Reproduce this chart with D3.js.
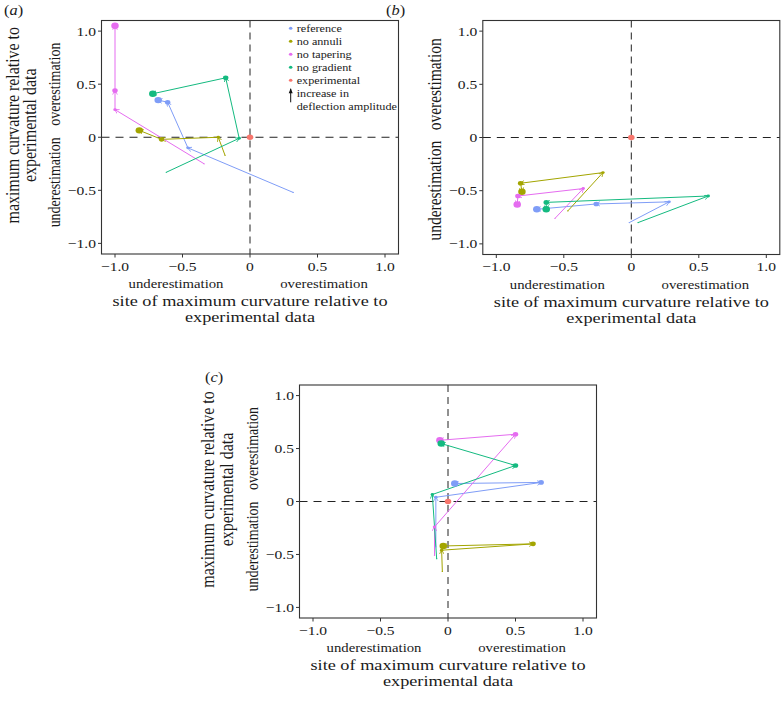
<!DOCTYPE html>
<html><head><meta charset="utf-8">
<script src="https://cdn.jsdelivr.net/npm/d3@7"></script>
<style>
body{margin:0;background:#fff}
text{font-family:"Liberation Serif","Times New Roman",serif;fill:#1a1a1a}
</style>
</head><body><svg id="chart" width="781" height="701"></svg>
<script>
// ---------------- data ----------------
const seriesNames = ["reference", "no annuli", "no tapering", "no gradient"];
const legendLabels = ["reference", "no annuli", "no tapering", "no gradient", "experimental"];
const tickValues = [-1.0, -0.5, 0, 0.5, 1.0];
const tickLabels = ["\u22121.0", "\u22120.5", "0", "0.5", "1.0"];
const amplitudeSteps = [1, 2, 3, 4];
const experimental = [0, 0];

// panel (a): [site, curvature] per increasing deflection amplitude
const aReference  = [[0.32, -0.52], [-0.46, -0.10], [-0.61, 0.33], [-0.68, 0.35]];
const aNoAnnuli   = [[-0.185, -0.17], [-0.235, 0.0], [-0.655, -0.02], [-0.82, 0.065]];
const aNoTapering = [[-0.34, -0.25], [-1.0, 0.26], [-1.0, 0.44], [-1.0, 1.05]];
const aNoGradient = [[-0.62, -0.33], [-0.08, -0.01], [-0.18, 0.56], [-0.72, 0.41]];
// panel (b)
const bReference  = [[-0.015, -0.80], [0.28, -0.605], [-0.26, -0.625], [-0.70, -0.675]];
const bNoAnnuli   = [[-0.47, -0.69], [-0.21, -0.33], [-0.82, -0.43], [-0.81, -0.51]];
const bNoTapering = [[-0.565, -0.76], [-0.356, -0.48], [-0.84, -0.55], [-0.845, -0.63]];
const bNoGradient = [[0.05, -0.80], [0.57, -0.55], [-0.63, -0.61], [-0.63, -0.675]];
// panel (c)
const cReference  = [[-0.09, -0.43], [-0.09, 0.04], [0.69, 0.18], [0.05, 0.17]];
const cNoAnnuli   = [[-0.042, -0.66], [-0.047, -0.46], [0.63, -0.40], [-0.035, -0.42]];
const cNoTapering = [[-0.10, -0.51], [-0.10, -0.24], [0.50, 0.635], [-0.06, 0.578]];
const cNoGradient = [[-0.084, -0.54], [-0.116, 0.066], [0.50, 0.34], [-0.05, 0.547]];

const colors = ["#7F9DF7", "#A3A500", "#E56CF0", "#14BA80", "#F8766D"];

// ---------------- layout ----------------
const SX = 1.17; // horizontal stretch of the original figure
const panels = [
  {label: "(a)", lx: 4, ly: 15, left: 101.5, top: 20.5, w: 297, h: 233.5, data: [aReference, aNoAnnuli, aNoTapering, aNoGradient],
   yTitle: true, t1: 83, t2: 65.5, ySubSize: 14, legend: true},
  {label: "(b)", lx: 386, ly: 15, left: 482.8, top: 20.5, w: 297, h: 234, data: [bReference, bNoAnnuli, bNoTapering, bNoGradient],
   yTitle: false, ySubSize: 15.5, legend: false},
  {label: "(c)", lx: 205, ly: 382, left: 299.5, top: 385, w: 297, h: 233, data: [cReference, cNoAnnuli, cNoTapering, cNoGradient],
   yTitle: true, t1: 86, t2: 66.5, ySubSize: 14, legend: false}
];

const svg = d3.select("#chart");
const defs = svg.append("defs");
colors.forEach((c, i) => {
  defs.append("marker").attr("id", "arr" + i)
    .attr("viewBox", "0 -6 10 12").attr("refX", 9).attr("refY", 0)
    .attr("markerWidth", 4.5).attr("markerHeight", 5.4)
    .attr("markerUnits", "userSpaceOnUse").attr("orient", "auto")
    .append("path").attr("d", "M0,-5.2L10,0L0,5.2")
    .attr("fill", "none").attr("stroke", c).attr("stroke-width", 1.8);
});
defs.append("marker").attr("id", "arrBlack")
  .attr("viewBox", "0 -5 10 10").attr("refX", 9).attr("refY", 0)
  .attr("markerWidth", 6).attr("markerHeight", 5)
  .attr("markerUnits", "userSpaceOnUse").attr("orient", "auto")
  .append("path").attr("d", "M0,-4L10,0L0,4Z").attr("fill", "#111");

const rScale = d3.scaleLinear().domain([1, 4]).range([0.6, 3.2]);

function hText(g, x, y, str, size, anchor) {
  return g.append("text")
    .attr("transform", `translate(${x},${y}) scale(${SX},1)`)
    .attr("text-anchor", anchor || "middle")
    .style("font-size", size + "px").text(str);
}
function vText(g, x, y, str, size) {
  return g.append("text")
    .attr("transform", `translate(${x},${y}) scale(${SX},1) rotate(-90)`)
    .attr("text-anchor", "middle")
    .style("font-size", size + "px").text(str);
}

panels.forEach(p => {
  const g = svg.append("g");
  const x = d3.scaleLinear().domain([-1.1, 1.1]).range([p.left, p.left + p.w]);
  const y = d3.scaleLinear().domain([-1.1, 1.1]).range([p.top + p.h, p.top]);

  // dashed reference lines
  g.append("line").attr("x1", x(0)).attr("x2", x(0)).attr("y1", p.top).attr("y2", p.top + p.h)
    .attr("stroke", "#222").attr("stroke-width", 1).attr("stroke-dasharray", "7,5");
  g.append("line").attr("x1", p.left).attr("x2", p.left + p.w).attr("y1", y(0)).attr("y2", y(0))
    .attr("stroke", "#222").attr("stroke-width", 1).attr("stroke-dasharray", "8,6");

  // segments with arrows
  p.data.forEach((pts, si) => {
    const segs = d3.pairs(pts);
    g.append("g").selectAll("line").data(segs).join("line")
      .attr("x1", d => x(d[0][0])).attr("y1", d => y(d[0][1]))
      .attr("x2", d => x(d[1][0])).attr("y2", d => y(d[1][1]))
      .attr("stroke", colors[si]).attr("stroke-width", 1)
      .attr("marker-end", `url(#arr${si})`);
  });
  // points sized by deflection amplitude
  p.data.forEach((pts, si) => {
    g.append("g").selectAll("ellipse").data(pts).join("ellipse")
      .attr("cx", d => x(d[0])).attr("cy", d => y(d[1]))
      .attr("rx", (d, i) => rScale(amplitudeSteps[i]) * SX)
      .attr("ry", (d, i) => rScale(amplitudeSteps[i]))
      .attr("fill", colors[si]);
  });
  // experimental point
  g.append("ellipse").attr("cx", x(experimental[0])).attr("cy", y(experimental[1]))
    .attr("rx", 2.8 * SX).attr("ry", 2.8).attr("fill", colors[4]);

  // border
  g.append("rect").attr("x", p.left).attr("y", p.top).attr("width", p.w).attr("height", p.h)
    .attr("fill", "none").attr("stroke", "#333").attr("stroke-width", 1.1);

  // ticks
  const bottom = p.top + p.h;
  tickValues.forEach((t, i) => {
    g.append("line").attr("x1", x(t)).attr("x2", x(t)).attr("y1", bottom).attr("y2", bottom + 3.5)
      .attr("stroke", "#333").attr("stroke-width", 1);
    hText(g, x(t), bottom + 16.7, tickLabels[i], 13.3);
    g.append("line").attr("x1", p.left - 3.5).attr("x2", p.left).attr("y1", y(t)).attr("y2", y(t))
      .attr("stroke", "#333").attr("stroke-width", 1);
    hText(g, p.left - 5.5, y(t) + 4.6, tickLabels[i], 13.3, "end");
  });

  // x sub labels and title
  hText(g, x(0) - 74, bottom + 34, "underestimation", 12.6);
  hText(g, x(0) + 74, bottom + 34, "overestimation", 12.6);
  const cx = p.left + p.w / 2;
  hText(g, cx, bottom + 52, "site of maximum curvature relative to", 15.6);
  hText(g, cx, bottom + 68, "experimental data", 15.6);

  // y sub labels and title
  vText(g, p.left - 41.5, y(0.5), "overestimation", p.ySubSize);
  vText(g, p.left - 41.5, y(-0.5) - (p.yTitle ? 8 : 0), "underestimation", p.ySubSize);
  if (p.yTitle) {
    const cy = y(0) - 12;
    vText(g, p.left - p.t1, cy, "maximum curvature relative to", 15.9);
    vText(g, p.left - p.t2, cy, "experimental data", 15.9);
  }

  // panel label
  const lab = g.append("text").attr("transform", `translate(${p.lx},${p.ly}) scale(${SX},1)`)
    .style("font-size", "14px");
  lab.append("tspan").text("(");
  lab.append("tspan").style("font-style", "italic").text(p.label[1]);
  lab.append("tspan").text(")");

  // legend
  if (p.legend) {
    const lg = g.append("g");
    const lx = 290.7, ly0 = 28.3, step = 13;
    legendLabels.forEach((name, i) => {
      lg.append("ellipse").attr("cx", lx).attr("cy", ly0 + i * step).attr("rx", 1.5 * SX).attr("ry", 1.5)
        .attr("fill", colors[i]);
      hText(lg, lx + 6, ly0 + i * step + 3.6, name, 10.4, "start");
    });
    lg.append("line").attr("x1", lx).attr("x2", lx).attr("y1", ly0 + 5 * step + 9).attr("y2", ly0 + 5 * step - 4.5)
      .attr("stroke", "#111").attr("stroke-width", 1).attr("marker-end", "url(#arrBlack)");
    hText(lg, lx + 6, ly0 + 5 * step + 3.6, "increase in", 10.4, "start");
    hText(lg, lx + 6, ly0 + 6 * step + 3.6, "deflection amplitude", 10.4, "start");
  }
});
</script>
</body></html>
